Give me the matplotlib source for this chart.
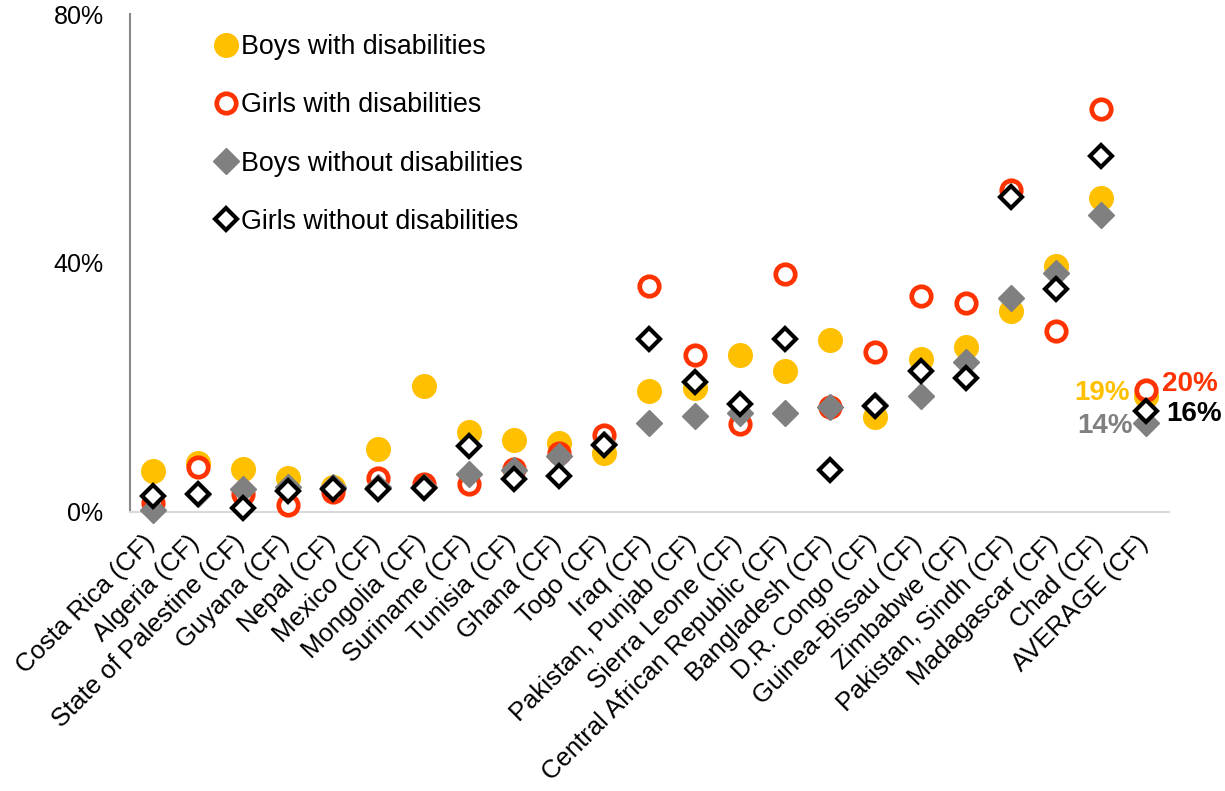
import matplotlib
matplotlib.use("Agg")
import matplotlib.pyplot as plt
from matplotlib.transforms import Affine2D

plt.rcParams["font.family"] = ["Liberation Sans", "DejaVu Sans"]

countries = ["Costa Rica (CF)", "Algeria (CF)", "State of Palestine (CF)", "Guyana (CF)",
             "Nepal (CF)", "Mexico (CF)", "Mongolia (CF)", "Suriname (CF)", "Tunisia (CF)",
             "Ghana (CF)", "Togo (CF)", "Iraq (CF)", "Pakistan, Punjab (CF)", "Sierra Leone (CF)",
             "Central African Republic (CF)", "Bangladesh (CF)", "D.R. Congo (CF)",
             "Guinea-Bissau (CF)", "Zimbabwe (CF)", "Pakistan, Sindh (CF)", "Madagascar (CF)",
             "Chad (CF)", "AVERAGE (CF)"]

boys_dis = [6.5, 7.8, 6.8, 5.4, 4.0, 10.1, 20.2, 12.8, 11.5, 11.0, 9.4, 19.3, 19.8, 25.2,
            22.6, 27.5, 15.2, 24.6, 26.5, 32.3, 39.5, 50.4, 18.6]
girls_dis = [1.3, 7.1, 2.8, 1.1, 3.2, 5.4, 4.5, 4.5, 6.8, 9.4, 12.3, 36.3, 25.1, 14.1,
             38.2, 16.8, 25.6, 34.7, 33.6, 51.7, 29.1, 64.8, 19.6]
boys_nodis = [0.2, 2.8, 3.6, 4.0, 4.0, 4.0, 4.0, 6.0, 6.7, 9.0, 10.8, 14.2, 15.4, 15.8,
              15.8, 16.8, 17.1, 18.5, 24.1, 34.4, 38.3, 47.7, 14.2]
girls_nodis = [2.5, 2.8, 0.5, 3.3, 3.6, 3.6, 3.8, 10.5, 5.2, 5.7, 10.7, 27.7, 20.8, 17.3,
               27.7, 6.7, 17.0, 22.6, 21.5, 50.6, 35.7, 57.2, 16.2]

avg_labels = ["19%", "20%", "14%", "16%"]

YELLOW = "#FFC000"
RED = "#FF3300"
GRAY = "#808080"

fig = plt.figure(figsize=(12.25, 7.91), dpi=100)
ax = fig.add_axes([130 / 1225, 1 - 511.5 / 791, 1039 / 1225, 497.5 / 791])

x = list(range(len(countries)))

ax.plot(x, boys_dis, "o", ms=17, color=YELLOW, mec=YELLOW, clip_on=False,
        label="Boys with disabilities", zorder=3)
ax.plot(x, girls_dis, "o", ms=14, mfc="white", mec=RED, mew=3.4, clip_on=False,
        label="Girls with disabilities", zorder=4)
ax.plot(x, boys_nodis, "D", ms=13.5, color=GRAY, mec=GRAY, clip_on=False,
        label="Boys without disabilities", zorder=5)
ax.plot(x, girls_nodis, "D", ms=11.3, mfc="white", mec="black", mew=3.0, clip_on=False,
        label="Girls without disabilities", zorder=6)

ax.set_xlim(-0.5, len(countries) - 0.5)
ax.set_ylim(0, 80)
ax.set_yticks([0, 40, 80])
ax.set_yticklabels(["0%", "40%", "80%"])
ax.set_xticks(x)
ax.set_xticklabels(countries, rotation=45, ha="right", va="top", rotation_mode="anchor",
                   fontsize=18.5)
ax.tick_params(axis="both", length=0)
ax.tick_params(axis="y", pad=19, labelsize=18)
ax.tick_params(axis="x", pad=14)
shift = Affine2D().translate(-10.5, 0)
for lab in ax.get_xticklabels():
    lab.set_transform(lab.get_transform() + shift)

for s in ["top", "right"]:
    ax.spines[s].set_visible(False)
ax.spines["left"].set_color("#898989")
ax.spines["left"].set_linewidth(1.5)
ax.spines["bottom"].set_color("#d9d9d9")
ax.spines["bottom"].set_linewidth(1.5)

# value labels for the average
i = len(countries) - 1
ax.annotate(avg_labels[0], (i, boys_dis[i]), xytext=(-17, 3), textcoords="offset pixels",
            ha="right", va="center", fontsize=20, fontweight="bold", color=YELLOW)
ax.annotate(avg_labels[1], (i, girls_dis[i]), xytext=(16, 6), textcoords="offset pixels",
            ha="left", va="center", fontsize=20, fontweight="bold", color=RED)
ax.annotate(avg_labels[2], (i, boys_nodis[i]), xytext=(-14, -3), textcoords="offset pixels",
            ha="right", va="center", fontsize=20, fontweight="bold", color=GRAY)
ax.annotate(avg_labels[3], (i, girls_nodis[i]), xytext=(20, -3), textcoords="offset pixels",
            ha="left", va="center", fontsize=20, fontweight="bold", color="black")

ax.legend(loc="upper left", bbox_to_anchor=(0.0818, 0.9594), frameon=False, fontsize=19.3,
          borderpad=0, handlelength=0.8, handletextpad=0.17, labelspacing=1.2,
          borderaxespad=0)

fig.savefig("out.png", dpi=100)
